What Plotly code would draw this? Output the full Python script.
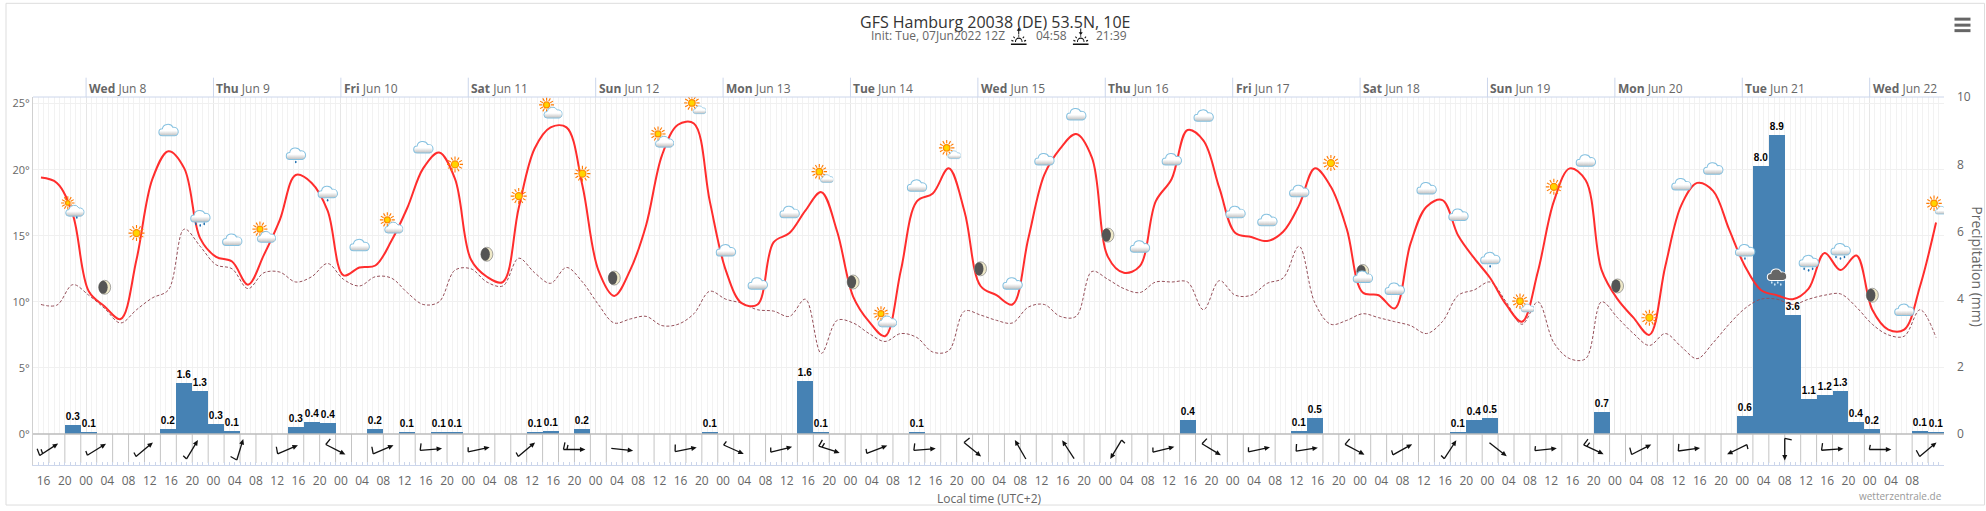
import base64

import pandas as pd
import plotly.graph_objects as go

FONT = 'Open Sans'
GREY = '#666666'
AXIS_BLUE = '#ccd6eb'

# plot box inside the 1986x511 page, in pixels
LEFT, RIGHT, TOP, BOTTOM = 33, 1944.5, 97.3, 465
STRIP_TOP = 434
PLOT_W = RIGHT - LEFT
PLOT_H = BOTTOM - TOP

START = pd.Timestamp('2022-06-07 14:00')
END = pd.Timestamp('2022-06-22 14:00')
HOUR_MS = 3600000
PX_PER_HOUR = PLOT_W / 360

day_starts = ['2022-06-%02d' % d for d in range(8, 23)]
day_names = ['Wed', 'Thu', 'Fri', 'Sat', 'Sun', 'Mon', 'Tue', 'Wed', 'Thu', 'Fri', 'Sat', 'Sun', 'Mon', 'Tue', 'Wed']
day_labels = ['Jun %d' % d for d in range(8, 23)]

# temperature and dew point, one value per 3 hour step
temperature = [
    19.4, 19.0, 16.6, 10.8, 9.65, 8.7, 13.2, 19.3, 21.4, 20.1,
    14.8, 13.4, 13.05, 11.3, 13.55, 16.2, 19.6, 19.0, 16.9, 12.0,
    12.6, 12.75, 14.6, 17.1, 20.1, 21.3, 19.3, 13.2, 11.9, 11.5,
    17.1, 21.6, 23.2, 23.2, 18.8, 12.4, 10.45, 12.4, 15.8, 21.1,
    23.4, 23.5, 17.6, 12.4, 9.9, 9.8, 14.5, 15.2, 16.9, 18.3,
    15.3, 10.4, 8.5, 7.4, 12.4, 17.6, 18.2, 20.1, 16.8, 11.2,
    10.5, 9.8, 14.8, 19.6, 21.6, 22.7, 20.9, 13.4, 12.2, 12.7,
    17.6, 19.3, 23.0, 22.2, 18.6, 15.2, 14.9, 14.6, 15.3, 17.3,
    20.1, 18.7, 15.5, 10.7, 10.5, 9.5, 14.4, 17.2, 17.7, 15.0,
    13.3, 11.8, 9.8, 8.5, 12.3, 17.6, 20.1, 19.2, 12.4, 10.2,
    8.8, 7.5, 12.7, 17.3, 19.0, 18.4, 15.5, 12.7, 10.9, 10.5,
    10.2, 11.0, 13.7, 12.4, 13.5, 9.4, 7.9, 7.9, 11.2, 16.0,
]
dew_point = [
    9.8, 9.75, 11.3, 10.5, 9.5, 8.4, 9.4, 10.3, 10.9, 15.5,
    14.2, 12.8, 12.5, 11.0, 12.2, 12.25, 11.5, 11.9, 12.9, 11.7,
    11.2, 11.9, 11.8, 10.7, 9.8, 10.0, 12.4, 12.5, 11.5, 11.2,
    13.3, 12.2, 11.4, 12.6, 11.5, 9.8, 8.4, 8.7, 8.9, 8.2,
    8.3, 9.1, 10.8, 10.2, 9.9, 9.4, 9.3, 8.9, 10.2, 6.1,
    8.6, 8.4, 7.6, 7.0, 7.6, 7.3, 6.2, 6.3, 9.3, 9.0,
    8.6, 8.4, 9.6, 9.8, 8.9, 8.9, 12.3, 11.7, 11.0, 10.7,
    11.5, 11.5, 11.5, 9.4, 11.6, 10.5, 10.5, 11.4, 11.8, 14.2,
    9.9, 8.3, 8.6, 9.1, 8.8, 8.5, 8.2, 7.6, 8.5, 10.5,
    10.9, 11.5, 10.0, 8.3, 10.0, 6.9, 5.7, 5.7, 10.0, 8.8,
    7.6, 6.7, 7.6, 6.6, 5.7, 6.9, 8.3, 9.5, 10.2, 10.2,
    9.8, 10.2, 10.5, 10.6, 9.6, 8.3, 7.5, 7.4, 9.4, 7.3,
]

# only the wet steps have a bar
precip_steps = [2, 3, 8, 9, 10, 11, 12, 16, 17, 18, 21, 23, 25, 26, 31, 32, 34, 42, 48, 49,
                55, 72, 79, 80, 89, 90, 91, 98, 107, 108, 109, 110, 111, 112, 113, 114, 115, 118, 119]
precip_mm = [0.27, 0.03, 0.15, 1.51, 1.28, 0.30, 0.09, 0.21, 0.36, 0.33, 0.15, 0.03, 0.03, 0.03, 0.03, 0.09, 0.15, 0.03, 1.57, 0.03,
             0.03, 0.42, 0.09, 0.48, 0.03, 0.42, 0.48, 0.65, 0.53, 7.96, 8.88, 3.53, 1.04, 1.16, 1.28, 0.36, 0.15, 0.09, 0.03]
precip_text = ['0.3', '0.1', '0.2', '1.6', '1.3', '0.3', '0.1', '0.3', '0.4', '0.4', '0.2', '0.1', '0.1', '0.1', '0.1', '0.1', '0.2', '0.1', '1.6', '0.1',
               '0.1', '0.4', '0.1', '0.5', '0.1', '0.4', '0.5', '0.7', '0.6', '8.0', '8.9', '3.6', '1.1', '1.2', '1.3', '0.4', '0.2', '0.1', '0.1']

# weather symbols: step, height on the temperature axis, kind
icon_steps = [2, 4, 6, 8, 10, 12, 14, 16, 18, 20, 22, 24, 26, 28, 30, 32, 34, 36,
              39, 41, 43, 45, 47, 49, 51, 53, 55, 57, 59, 61, 63, 65, 67, 69, 71, 73, 75, 77, 79,
              81, 83, 83, 85, 87, 89, 91, 93, 95, 97, 99, 101, 103, 105, 107, 109, 111, 113, 115, 117, 119]
icon_temps = [17.1, 11.1, 15.2, 22.9, 16.2, 14.6, 15.2, 21.0, 18.1, 14.2, 15.9, 21.6, 20.4, 13.6, 18.0, 24.6, 19.7, 11.8,
              22.4, 24.9, 13.8, 11.3, 16.7, 19.7, 11.5, 8.8, 18.7, 21.5, 12.5, 11.3, 20.7, 24.1, 15.05, 14.1, 20.7, 24.0, 16.7, 16.1, 18.3,
              20.5, 12.3, 11.8, 10.9, 18.5, 16.5, 13.1, 9.9, 18.7, 20.6, 11.2, 8.8, 18.8, 20.0, 13.7, 11.8, 12.8, 13.7, 10.5, 9.3, 17.3]
icon_kinds = ['sun_rain', 'moon', 'sun', 'cloud', 'rain', 'cloud', 'sun_cloud', 'drizzle', 'drizzle', 'cloud', 'sun_cloud', 'cloud', 'sun', 'moon', 'sun', 'sun_cloud', 'sun', 'moon',
              'sun_cloud', 'sun_peek', 'cloud', 'cloud', 'cloud', 'sun_peek', 'moon', 'sun_cloud', 'cloud', 'sun_peek', 'moon', 'cloud', 'cloud', 'cloud', 'moon', 'cloud', 'cloud', 'cloud', 'cloud', 'cloud', 'cloud',
              'sun', 'moon', 'cloud', 'cloud', 'cloud', 'cloud', 'drizzle', 'sun_peek', 'sun', 'cloud', 'moon', 'sun', 'cloud', 'cloud', 'drizzle', 'storm', 'rain', 'rain', 'moon', 'cloud', 'sun_peek']

# wind arrows: step, compass heading, tail barbs (1 short, 2 long, 3 long and short)
wind_steps = [1, 4, 7, 10, 13, 16, 19, 22, 25, 28, 31, 34, 37,
              41, 44, 47, 50, 53, 56, 59, 62, 65, 68, 71, 74, 77, 80,
              83, 86, 89, 92, 95, 98, 101, 104, 107, 110, 113, 116, 119]
wind_heading = [57, 58, 50, 31, 17, 67, 117, 67, 85, 78, 50, 90, 96,
                79, 114, 76, 108, 69, 85, 129, 330, 327, 211, 76, 121, 78, 81,
                118, 61, 33, 128, 84, 115, 63, 82, 244, 180, 86, 90, 50]
wind_barbs = [3, 1, 1, 1, 2, 2, 2, 2, 2, 1, 1, 3, 0,
              2, 1, 1, 3, 1, 2, 2, 0, 0, 1, 1, 2, 1, 2,
              2, 1, 1, 0, 1, 3, 2, 2, 1, 2, 2, 1, 2]


def px_x(px):
    return (px - LEFT) / PLOT_W


def px_y(py):
    return (BOTTOM - py) / PLOT_H


def data_uri(svg):
    return 'data:image/svg+xml;base64,' + base64.b64encode(svg.encode()).decode()


def cloud_svg(dx=0, dy=0, scale=1.0, fill='url(#c)', stroke='#85c1e0'):
    return ('<g transform="translate(%g %g) scale(%g)">'
            '<path d="M12 33 a7 7 0 0 1 0 -14 a11 10 0 0 1 21 -3 a8.5 8.5 0 0 1 4 17 z" '
            'fill="%s" stroke="%s" stroke-width="2"/></g>' % (dx, dy, scale, fill, stroke))


def sun_svg(cx, cy, r):
    rays = ''.join(
        '<line x1="%g" y1="%g" x2="%g" y2="%g" transform="rotate(%d %g %g)"/>'
        % (cx, cy - r - 2.5, cx, cy - r - 9, a, cx, cy) for a in range(0, 360, 30)
    )
    return ('<g stroke="#ff7a00" stroke-width="2.2">' + rays + '</g>'
            '<circle cx="%g" cy="%g" r="%g" fill="#ffd400" stroke="#ff8c00" stroke-width="2.5"/>' % (cx, cy, r))


def drops_svg(points, color='#1f6fb0'):
    return ''.join('<ellipse cx="%g" cy="%g" rx="1.6" ry="2.6" fill="%s"/>' % (x, y, color) for x, y in points)


def icon_svg(kind):
    body = ''
    if kind == 'cloud':
        body = cloud_svg()
    elif kind == 'sun':
        body = sun_svg(24, 24, 7)
    elif kind == 'moon':
        body = ('<ellipse cx="24" cy="24" rx="12" ry="14" fill="#efe9c8" stroke="#8a8a8a" stroke-width="1.5"/>'
                '<ellipse cx="21" cy="24" rx="9" ry="13" fill="#555555"/>')
    elif kind == 'sun_cloud':
        body = sun_svg(16, 16, 6) + cloud_svg(6, 11, 0.95)
    elif kind == 'sun_peek':
        body = sun_svg(20, 20, 6.5) + cloud_svg(19, 19, 0.68)
    elif kind == 'sun_rain':
        body = sun_svg(14, 14, 4.5) + cloud_svg(5, 9, 0.95) + drops_svg([(32, 43)])
    elif kind == 'drizzle':
        body = cloud_svg(0, -3) + drops_svg([(24, 35)])
    elif kind == 'rain':
        body = cloud_svg(0, -5) + drops_svg([(15, 32), (24, 35), (32, 32)])
    elif kind == 'storm':
        body = cloud_svg(0, -4, 1, '#666666', '#ffffff') + drops_svg([(14, 33), (20, 37), (26, 33), (32, 37)], '#cfe6f5')
    return data_uri('<svg xmlns="http://www.w3.org/2000/svg" width="48" height="48" viewBox="0 0 48 48">'
                    '<defs><linearGradient id="c" x1="0" y1="0" x2="0" y2="1">'
                    '<stop offset="0.55" stop-color="#ffffff"/><stop offset="1" stop-color="#bdbdbd"/>'
                    '</linearGradient></defs>' + body + '</svg>')


def wind_svg(heading, barbs):
    marks = ''
    if barbs == 1:
        marks = '<line x1="30" y1="52" x2="21" y2="50"/>'
    elif barbs == 2:
        marks = '<line x1="30" y1="52" x2="16" y2="49"/>'
    elif barbs == 3:
        marks = '<line x1="30" y1="52" x2="16" y2="49"/><line x1="30" y1="45" x2="21" y2="43"/>'
    return data_uri('<svg xmlns="http://www.w3.org/2000/svg" width="60" height="60" viewBox="0 0 60 60">'
                    '<g transform="rotate(%d 30 30)" stroke="#111" stroke-width="2.6" fill="none">'
                    '<line x1="30" y1="52" x2="30" y2="14"/>%s'
                    '<path d="M30 8 L35 19 L25 19 Z" fill="#111" stroke="none"/></g></svg>' % (heading, marks))


def sunrise_svg(down):
    arrow = 'M12 1 L12 9' if not down else 'M12 1 L12 8'
    head = 'M12 0 L15 4 L9 4 Z' if not down else 'M12 10 L15 6 L9 6 Z'
    return data_uri('<svg xmlns="http://www.w3.org/2000/svg" width="24" height="24" viewBox="0 0 24 24">'
                    '<g stroke="#111" stroke-width="1.5" fill="none">'
                    '<path d="%s"/><path d="%s" fill="#111" stroke="none"/>'
                    '<path d="M7 19 a5 5 0 0 1 10 0"/><path d="M0 22 L24 22" stroke-width="2"/>'
                    '<path d="M12 12 L12 10 M6 14 L4 12 M18 14 L20 12 M4 18 L1 17 M20 18 L23 17"/></g></svg>' % (arrow, head))


step_times = [START + pd.Timedelta(hours=1.5 + 3 * i) for i in range(len(temperature))]
hour_ticks = pd.date_range('2022-06-07 16:00', '2022-06-22 08:00', freq='4h')

fig = go.Figure()

# precipitation
fig.add_trace(go.Bar(
    x=[step_times[i] for i in precip_steps],
    y=precip_mm,
    width=3 * HOUR_MS,
    marker=dict(color='#4682b4', line=dict(width=0)),
    text=precip_text,
    textposition='outside',
    textangle=0,
    cliponaxis=False,
    textfont=dict(family='Liberation Sans', size=10, color='#000000', weight='bold', shadow='0 0 2px #ffffff'),
    xaxis='x',
    yaxis='y',
    showlegend=False,
))

# dew point and temperature
fig.add_trace(go.Scatter(
    x=step_times,
    y=dew_point,
    mode='lines',
    line=dict(color='#96505a', width=1, dash='3px,2px', shape='spline', smoothing=1),
    xaxis='x',
    yaxis='y2',
    showlegend=False,
))
fig.add_trace(go.Scatter(
    x=step_times,
    y=temperature,
    mode='lines',
    line=dict(color='#ff2d2d', width=2, shape='spline', smoothing=1),
    xaxis='x',
    yaxis='y2',
    showlegend=False,
))

# empty trace keeps the wind strip axes alive
fig.add_trace(go.Scatter(x=[START], y=[0], mode='none', xaxis='x2', yaxis='y3', showlegend=False))

images = []
for step, temp, kind in zip(icon_steps, icon_temps, icon_kinds):
    images.append(dict(
        source=icon_svg(kind), xref='x', yref='y2', x=step_times[step], y=temp,
        sizex=24 / PX_PER_HOUR * HOUR_MS, sizey=24 / 13.2, xanchor='center', yanchor='middle',
        sizing='stretch', layer='above',
    ))
for step, heading, barbs in zip(wind_steps, wind_heading, wind_barbs):
    images.append(dict(
        source=wind_svg(heading, barbs), xref='x2', yref='y3', x=START + pd.Timedelta(hours=3 * step), y=0.5,
        sizex=30 / PX_PER_HOUR * HOUR_MS, sizey=30 / (BOTTOM - STRIP_TOP), xanchor='center', yanchor='middle',
        sizing='stretch', layer='above',
    ))
images.append(dict(source=sunrise_svg(False), xref='paper', yref='paper', x=px_x(1019), y=px_y(37),
                   sizex=16 / PLOT_W, sizey=18 / PLOT_H, xanchor='center', yanchor='middle', sizing='stretch'))
images.append(dict(source=sunrise_svg(True), xref='paper', yref='paper', x=px_x(1081), y=px_y(37),
                   sizex=16 / PLOT_W, sizey=18 / PLOT_H, xanchor='center', yanchor='middle', sizing='stretch'))

annotations = [
    dict(text='GFS Hamburg 20038 (DE) 53.5N, 10E', xref='paper', yref='paper', x=px_x(995), y=px_y(22),
         xanchor='center', yanchor='middle', showarrow=False, font=dict(family=FONT, size=16, color='#333333')),
    dict(text='Init: Tue, 07Jun2022 12Z', xref='paper', yref='paper', x=px_x(1007), y=px_y(36), xanchor='right',
         yanchor='middle', showarrow=False, font=dict(family=FONT, size=12, color=GREY)),
    dict(text='04:58', xref='paper', yref='paper', x=px_x(1034), y=px_y(36), xanchor='left',
         yanchor='middle', showarrow=False, font=dict(family=FONT, size=12, color=GREY)),
    dict(text='21:39', xref='paper', yref='paper', x=px_x(1094), y=px_y(36), xanchor='left',
         yanchor='middle', showarrow=False, font=dict(family=FONT, size=12, color=GREY)),
    dict(text='Local time (UTC+2)', xref='paper', yref='paper', x=px_x(989), y=px_y(498),
         xanchor='center', yanchor='middle', showarrow=False, font=dict(family=FONT, size=12, color=GREY)),
    dict(text='wetterzentrale.de', xref='paper', yref='paper', x=px_x(1944.5), y=px_y(496), xanchor='right',
         yanchor='middle', showarrow=False, font=dict(family=FONT, size=10, color='#999999')),
    dict(text='Precipitation (mm)', xref='paper', yref='paper', x=px_x(1978), y=px_y(267), textangle=90,
         xanchor='center', yanchor='middle', showarrow=False, font=dict(family=FONT, size=14, color=GREY)),
]
for day, name, label in zip(day_starts, day_names, day_labels):
    annotations.append(dict(
        text='<b>%s</b> %s' % (name, label), xref='x', yref='paper', x=day, y=px_y(88.5), xanchor='left',
        yanchor='middle', xshift=1, showarrow=False, font=dict(family=FONT, size=12, color=GREY),
    ))

shapes = [
    # page frame
    dict(type='rect', xref='paper', yref='paper', x0=px_x(6), x1=px_x(1985), y0=px_y(505), y1=px_y(3.7),
         line=dict(color='#dddddd', width=1), layer='below'),
    # top of the plot and top of the wind strip
    dict(type='line', xref='paper', yref='paper', x0=0, x1=1, y0=1, y1=1, line=dict(color=AXIS_BLUE, width=1)),
    dict(type='line', xref='paper', yref='paper', x0=0, x1=1, y0=px_y(STRIP_TOP), y1=px_y(STRIP_TOP),
         line=dict(color='#bbbbbb', width=1.5)),
]
# menu button
for py in (19.5, 25.5, 31):
    shapes.append(dict(type='line', xref='paper', yref='paper', x0=px_x(1955), x1=px_x(1971), y0=px_y(py), y1=px_y(py),
                       line=dict(color=GREY, width=3)))
# day ticks above the plot
for day in day_starts:
    shapes.append(dict(type='line', xref='x', yref='paper', x0=day, x1=day, y0=1, y1=px_y(78),
                       line=dict(color=AXIS_BLUE, width=1)))
# wind strip cells, one per 3 hours
for i in range(1, 120):
    t = START + pd.Timedelta(hours=3 * i)
    shapes.append(dict(type='line', xref='x2', yref='paper', x0=t, x1=t, y0=px_y(STRIP_TOP), y1=px_y(463),
                       line=dict(color='#c4c4c4', width=1), layer='below'))

fig.update_layout(
    width=1986,
    height=511,
    autosize=False,
    margin=dict(l=LEFT, r=1986 - RIGHT, t=TOP, b=511 - BOTTOM, pad=0),
    paper_bgcolor='#ffffff',
    plot_bgcolor='#ffffff',
    bargap=0,
    font=dict(family=FONT, size=12, color=GREY),
    images=images,
    shapes=shapes,
    annotations=annotations,
    xaxis=dict(
        type='date',
        range=[START, END],
        anchor='y',
        domain=[0, 1],
        dtick=86400000,
        tick0='2022-06-08',
        showgrid=True,
        gridcolor='#e6e6e6',
        gridwidth=1,
        showticklabels=False,
        ticks='',
        zeroline=False,
        minor=dict(dtick=HOUR_MS, showgrid=True, gridcolor='#f2f2f2', gridwidth=1, ticks=''),
    ),
    xaxis2=dict(
        type='date',
        range=[START, END],
        anchor='y3',
        domain=[0, 1],
        tickmode='array',
        tickvals=hour_ticks,
        tickformat='%H',
        showgrid=False,
        showline=True,
        linecolor=AXIS_BLUE,
        ticks='inside',
        ticklen=3,
        tickcolor=AXIS_BLUE,
        ticklabelstandoff=5,
        tickfont=dict(family=FONT, size=12, color=GREY),
        minor=dict(dtick=HOUR_MS, tick0='2022-06-08', ticks='inside', ticklen=3, tickcolor=AXIS_BLUE, showgrid=False),
    ),
    yaxis=dict(
        domain=[px_y(STRIP_TOP), 1],
        range=[0, 10],
        anchor='x',
        side='right',
        dtick=2,
        showgrid=False,
        zeroline=False,
        ticks='',
        ticklabelstandoff=12,
        tickfont=dict(family=FONT, size=12, color=GREY),
    ),
    yaxis2=dict(
        domain=[px_y(STRIP_TOP), 1],
        range=[0, 25.5],
        anchor='x',
        overlaying='y',
        side='left',
        tickvals=[0, 5, 10, 15, 20, 25],
        ticktext=['0°', '5°', '10°', '15°', '20°', '25°'],
        showgrid=True,
        gridcolor='#f0f0f0',
        zeroline=False,
        showline=True,
        linecolor='#d0d0d0',
        ticks='',
        tickfont=dict(family=FONT, size=11, color=GREY),
    ),
    yaxis3=dict(
        domain=[0, px_y(STRIP_TOP)],
        range=[0, 1],
        anchor='x2',
        showgrid=False,
        zeroline=False,
        showticklabels=False,
        showline=True,
        linecolor='#d0d0d0',
        ticks='',
    ),
)

fig.write_html('out.html', config=dict(displayModeBar=False), post_script="document.body.style.margin='0';")
